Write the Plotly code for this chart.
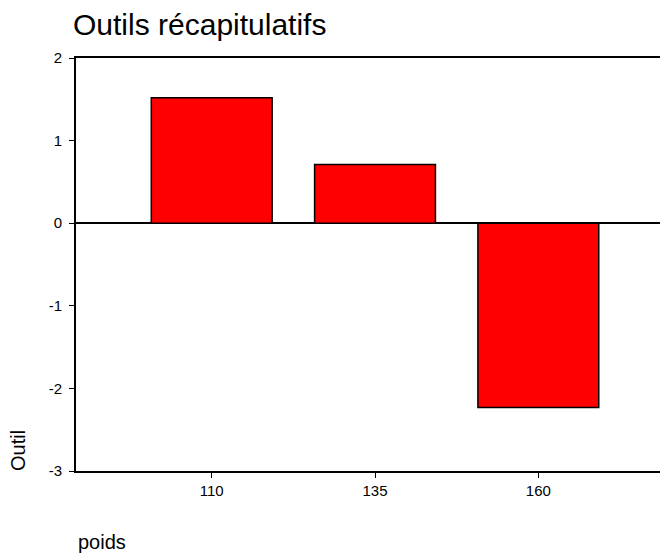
import plotly.graph_objects as go

# data
poids = ["110", "135", "160"]
outil = [1.52, 0.71, -2.23]
y_ticks = [-3, -2, -1, 0, 1, 2]

FONT = "Liberation Sans, Arial, sans-serif"

fig = go.Figure()

fig.add_trace(go.Bar(
    x=poids,
    y=outil,
    marker=dict(color="#ff0000", line=dict(color="black", width=1.5)),
    showlegend=False,
))

fig.update_layout(
    width=660,
    height=555,
    margin=dict(l=76, r=0, t=58, b=84),
    paper_bgcolor="white",
    plot_bgcolor="white",
    font=dict(family=FONT, size=15, color="black"),
    bargap=0.26,
    title=dict(
        text="Outils récapitulatifs",
        font=dict(family=FONT, size=30, color="black"),
        xref="container", x=73 / 660, xanchor="left",
        yref="container", y=1 - 24 / 555, yanchor="middle",
    ),
)

# plot runs off the right edge of the picture, like the original
fig.update_xaxes(
    type="category",
    range=[-0.831, 2.745],
    showline=True, linecolor="black", linewidth=2,
    mirror=True,
    ticks="outside", ticklen=5, tickcolor="black",
    showgrid=False,
    tickfont=dict(size=15),
)

fig.update_yaxes(
    range=[-3, 2],
    tickvals=y_ticks,
    ticktext=[str(v) for v in y_ticks],
    showline=True, linecolor="black", linewidth=2,
    ticks="outside", ticklen=5, tickcolor="black",
    ticklabelstandoff=4,
    showgrid=False,
    zeroline=True, zerolinecolor="black", zerolinewidth=1.5,
    tickfont=dict(size=15),
)

# axis titles sit in the lower-left corner, as in the original
fig.add_annotation(
    text="Outil", textangle=-90,
    xref="paper", x=(18 - 76) / 584, xanchor="center",
    yref="paper", y=(471 - 451) / 413, yanchor="middle",
    showarrow=False, font=dict(size=20),
)
fig.add_annotation(
    text="poids",
    xref="paper", x=0, xanchor="left",
    yref="paper", y=-(542 - 471) / 413, yanchor="middle",
    showarrow=False, font=dict(size=20),
)

# drop the default 8px body margin so the figure sits at the window corner
fig.write_html(
    "out.html",
    config={"displayModeBar": False},
    post_script="document.body.style.margin='0';document.body.style.overflow='hidden';",
)
